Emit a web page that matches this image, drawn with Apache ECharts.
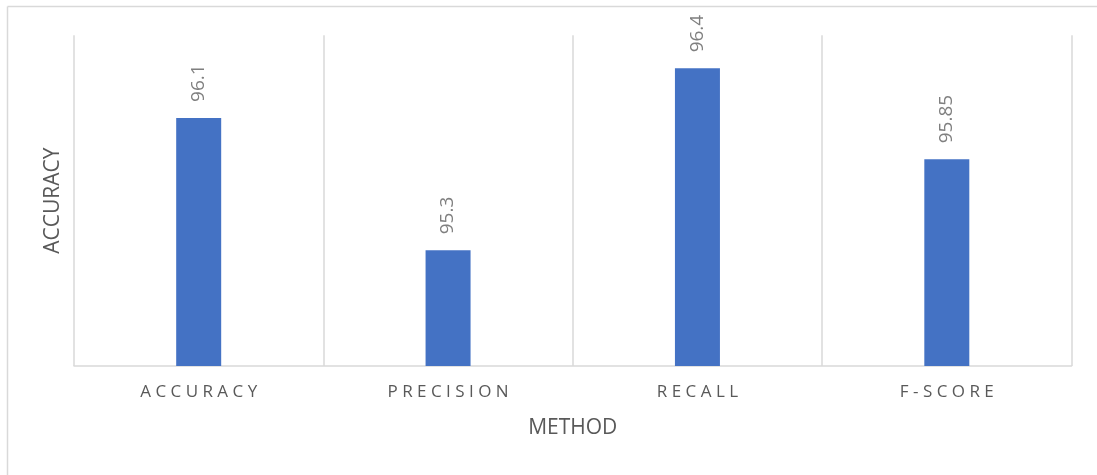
<!DOCTYPE html>
<html>
<head>
<meta charset="utf-8">
<title>Accuracy by method</title>
<script src="https://cdn.jsdelivr.net/npm/echarts@6/dist/echarts.min.js"></script>
<style>
  html, body { margin: 0; padding: 0; background: #ffffff; }
  #chart { width: 1097px; height: 475px; }
</style>
</head>
<body>
<div id="chart"></div>
<script>
// Metric names along the x axis and the score for each
const categories = ['ACCURACY', 'PRECISION', 'RECALL', 'F-SCORE'];
const scores = [96.1, 95.3, 96.4, 95.85];

// Value axis range (labels hidden, Excel-style auto range)
const yMin = 94.6;
const yMax = 96.6;
const yStep = 0.2;

const gridColor = '#d9d9d9';
const textColor = '#595959';
const fontFamily = '"Open Sans", "Noto Sans", sans-serif';

// Spread letters apart like a letter-spaced category label
const spaced = s => s.split('').join(' ');

const chart = echarts.init(document.getElementById('chart'), null, { renderer: 'canvas' });

chart.setOption({
  animation: false,
  backgroundColor: '#ffffff',
  grid: { left: 74, right: 25.5, top: 35.3, bottom: 109, containLabel: false },
  xAxis: {
    type: 'category',
    data: categories,
    name: 'METHOD',
    nameLocation: 'middle',
    nameGap: 52,
    nameTextStyle: { color: textColor, fontSize: 21, fontFamily: fontFamily },
    axisLine: { show: true, lineStyle: { color: gridColor, width: 1.5 } },
    axisTick: { show: false },
    axisLabel: {
      color: textColor,
      fontSize: 17,
      fontFamily: fontFamily,
      margin: 18,
      formatter: spaced
    },
    splitLine: { show: true, lineStyle: { color: gridColor, width: 1.5 } }
  },
  yAxis: {
    type: 'value',
    min: yMin,
    max: yMax,
    interval: yStep,
    name: 'ACCURACY',
    nameLocation: 'middle',
    nameGap: 10,
    nameTextStyle: { color: textColor, fontSize: 21, fontFamily: fontFamily },
    axisLine: { show: false },
    axisTick: { show: false },
    axisLabel: { show: false },
    splitLine: { show: false }
  },
  series: [{
    type: 'bar',
    data: scores,
    barWidth: 45,
    itemStyle: { color: '#4472c4' },
    label: {
      show: true,
      position: 'top',
      distance: 16,
      rotate: 90,
      align: 'left',
      verticalAlign: 'middle',
      color: '#7f7f7f',
      fontSize: 19,
      fontFamily: fontFamily
    }
  }],
  graphic: [
    {
      type: 'line',
      shape: { x1: 7.5, y1: 6.5, x2: 1097, y2: 6.5 },
      style: { stroke: gridColor, lineWidth: 1.5 },
      silent: true
    },
    {
      type: 'line',
      shape: { x1: 7.5, y1: 6.5, x2: 7.5, y2: 475 },
      style: { stroke: gridColor, lineWidth: 1.5 },
      silent: true
    }
  ]
});
</script>
</body>
</html>
